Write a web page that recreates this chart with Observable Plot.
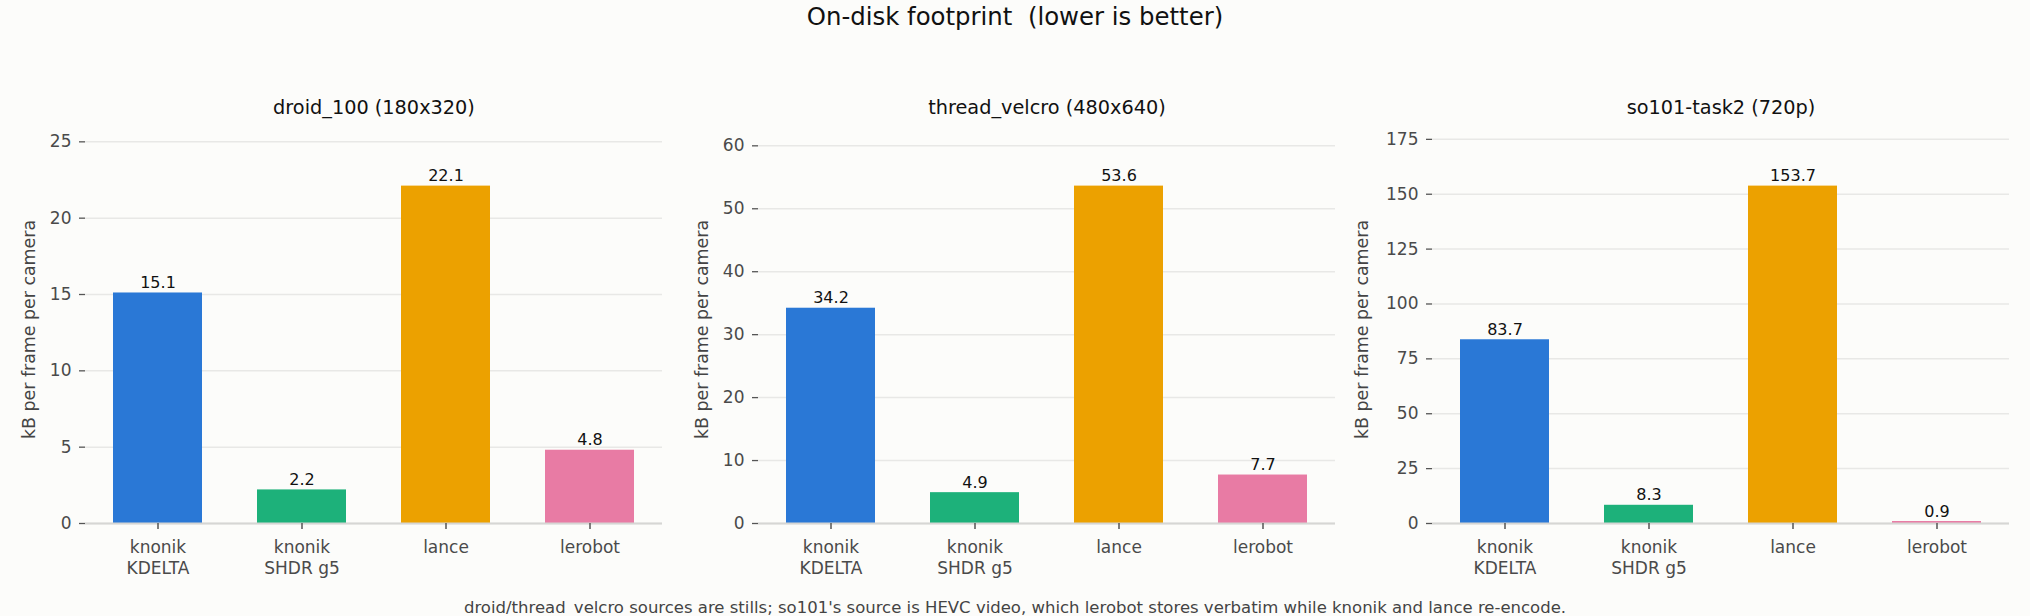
<!DOCTYPE html>
<html>
<head>
<meta charset="utf-8">
<script src="https://cdn.jsdelivr.net/npm/d3@7"></script>
<script src="https://cdn.jsdelivr.net/npm/@observablehq/plot@0.6"></script>
<style>
  html, body { margin: 0; padding: 0; background: #fcfcfa; }
  body { width: 2030px; height: 616px; position: relative; overflow: hidden; font-family: "DejaVu Sans", sans-serif; }
  #title { position: absolute; left: 0; width: 2030px; text-align: center; top: 3px; font-size: 24.4px; color: #111; white-space: pre; line-height: 1.164; }
  #caption { position: absolute; left: 0; width: 2030px; text-align: center; top: 598px; font-size: 16.5px; color: #444; white-space: pre; line-height: 1.164; }
  .panel { position: absolute; top: 0; }
</style>
</head>
<body>
<div id="title">On-disk footprint  (lower is better)</div>
<div id="p1" class="panel"></div>
<div id="p2" class="panel"></div>
<div id="p3" class="panel"></div>
<div id="caption">droid/thread_velcro sources are stills; so101's source is HEVC video, which lerobot stores verbatim while knonik and lance re-encode.</div>
<script>
// ---- data ----
const categories = ["knonik\nKDELTA", "knonik\nSHDR g5", "lance", "lerobot"];
const barColors = ["#2a78d6", "#1db17a", "#eca100", "#e87ba4"];
const panelTitles = ["droid_100 (180x320)", "thread_velcro (480x640)", "so101-task2 (720p)"];
const droidValues = [15.1, 2.2, 22.1, 4.8];
const velcroValues = [34.2, 4.9, 53.6, 7.7];
const so101Values = [83.7, 8.3, 153.7, 0.9];
const droidTicks = [0, 5, 10, 15, 20, 25];
const velcroTicks = [0, 10, 20, 30, 40, 50, 60];
const so101Ticks = [0, 25, 50, 75, 100, 125, 150, 175];
const yLabel = "kB per frame per camera";

// ---- layout ----
const H = 616, TOP = 135, BOTTOM = 523;
const panels = [
  {id: "p1", left: 0,    width: 670, plotLeft: 85,   values: droidValues,  ticks: droidTicks,  title: panelTitles[0]},
  {id: "p2", left: 680,  width: 665, plotLeft: 758,  values: velcroValues, ticks: velcroTicks, title: panelTitles[1]},
  {id: "p3", left: 1350, width: 680, plotLeft: 1432, values: so101Values,  ticks: so101Ticks,  title: panelTitles[2]}
];
const PLOT_W = 577;

for (const p of panels) {
  const data = categories.map((c, i) => ({cat: c, value: p.values[i], color: barColors[i]}));
  const maxV = d3.max(p.values);
  const mL = p.plotLeft - p.left;
  const mR = p.width - mL - PLOT_W;
  const labelOffset = p.ticks[p.ticks.length - 1] >= 100 ? 70 : 56;
  const chart = Plot.plot({
    width: p.width,
    height: H,
    marginLeft: mL,
    marginRight: mR,
    marginTop: TOP,
    marginBottom: H - BOTTOM,
    style: {background: "transparent", fontFamily: "DejaVu Sans, sans-serif", overflow: "visible"},
    x: {domain: categories, paddingInner: 0.38, paddingOuter: 0.19, label: null},
    y: {domain: [0, maxV * 1.15], label: null},
    marks: [
      Plot.gridY(p.ticks, {stroke: "#e8e8e6", strokeOpacity: 1, strokeWidth: 1.5}),
      Plot.barY(data, {x: "cat", y: "value", fill: "color"}),
      Plot.ruleY([0], {stroke: "#d6d6d4", strokeWidth: 2}),
      Plot.axisY(p.ticks, {tickSize: 6, tickPadding: 8, stroke: "#555", strokeWidth: 1.3, fill: "#4a4a4a", fontSize: 17, label: null}),
      Plot.axisX({tickSize: 6, tickPadding: 9, stroke: "#555", strokeWidth: 1.5, fill: "#4a4a4a", fontSize: 17, lineHeight: 1.22, label: null}),
      Plot.text(data, {x: "cat", y: "value", text: d => d.value.toFixed(1), lineAnchor: "bottom", dy: -5, fill: "#111", fontSize: 16}),
      Plot.text([p.title], {frameAnchor: "top", lineAnchor: "bottom", dy: -22, fill: "#111", fontSize: 19.3}),
      Plot.text([yLabel], {frameAnchor: "left", textAnchor: "middle", rotate: -90, dx: -labelOffset, fill: "#444", fontSize: 17.4})
    ]
  });
  const host = document.getElementById(p.id);
  host.style.left = p.left + "px";
  host.appendChild(chart);
}
</script>
</body>
</html>
